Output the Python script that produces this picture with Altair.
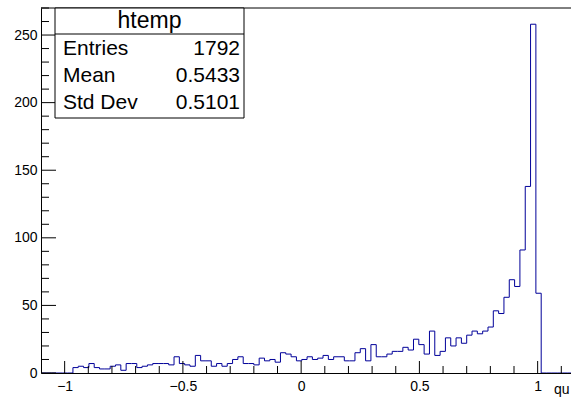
import altair as alt
import pandas as pd

# ---- histogram definition (ROOT-like htemp) ----
n_bins = 100
x_low, x_up = -1.1, 1.15
first_filled_bin = 6
bin_counts = [4, 5, 4, 7, 4, 3, 3, 5, 6, 2,
              7, 7, 4, 5, 6, 7, 7, 7, 6, 12,
              7, 6, 5, 13, 9, 9, 5, 7, 5, 7,
              10, 12, 7, 7, 6, 11, 9, 10, 8, 15,
              14, 12, 9, 10, 12, 10, 11, 13, 10, 12,
              12, 9, 9, 15, 18, 9, 21, 12, 12, 14,
              16, 16, 19, 17, 25, 21, 14, 31, 13, 16,
              26, 20, 26, 22, 28, 31, 29, 31, 34, 46,
              44, 56, 69, 64, 91, 138, 258, 59]

# ---- stats box ----
stats_title = "htemp"
stats_names = ["Entries", "Mean", "Std Dev"]
stats_values = ["1792", "0.5433", "0.5101"]

# ---- axis ticks ----
x_major = [-1, -0.5, 0, 0.5, 1]
x_minor = [round(-1.1 + 0.1 * k, 2) for k in range(23)]
x_minor = [v for v in x_minor if all(abs(v - m) > 1e-9 for m in x_major)]
y_major = [0, 50, 100, 150, 200, 250]
y_minor = [v for v in range(10, 271, 10) if v % 50 != 0]
x_title = "qu"

W, H = 530, 365
x_dom = [-1.1, 1.141]
y_dom = [0, 270]
FONT = "Liberation Sans"

# build step data
full = [0] * n_bins
full[first_filled_bin:first_filled_bin + len(bin_counts)] = bin_counts
width_bin = (x_up - x_low) / n_bins
edges = [x_low + i * width_bin for i in range(n_bins + 1)]
hist_df = pd.DataFrame({"x": edges, "y": full + [0]})

xs = alt.Scale(domain=x_dom, nice=False, zero=False)
ys = alt.Scale(domain=y_dom, nice=False, zero=False)

hist = alt.Chart(hist_df).mark_line(
    interpolate="step-after", color="#000099", strokeWidth=1, clip=True
).encode(
    x=alt.X("x:Q", scale=xs,
            axis=alt.Axis(values=x_major, format="~g", ticks=False, grid=False,
                          domainColor="black", labelFontSize=14, labelFont=FONT,
                          labelColor="black", labelPadding=6, title=None,
                          zindex=1, labelFlush=False)),
    y=alt.Y("y:Q", scale=ys,
            axis=alt.Axis(values=y_major, ticks=False, grid=False,
                          domainColor="black", labelFontSize=14, labelFont=FONT,
                          labelColor="black", labelPadding=4, title=None,
                          zindex=1, labelFlush=False)),
)

# inward ticks
xmaj = alt.Chart(pd.DataFrame({"v": x_major})).mark_rule(color="black", strokeWidth=1).encode(
    x=alt.X("v:Q", scale=xs), y=alt.value(H), y2=alt.value(H - 12))
xmin = alt.Chart(pd.DataFrame({"v": x_minor})).mark_rule(color="black", strokeWidth=1, clip=True).encode(
    x=alt.X("v:Q", scale=xs), y=alt.value(H), y2=alt.value(H - 7))
ymaj = alt.Chart(pd.DataFrame({"v": y_major})).mark_rule(color="black", strokeWidth=1).encode(
    y=alt.Y("v:Q", scale=ys), x=alt.value(0), x2=alt.value(15))
ymin = alt.Chart(pd.DataFrame({"v": y_minor})).mark_rule(color="black", strokeWidth=1).encode(
    y=alt.Y("v:Q", scale=ys), x=alt.value(0), x2=alt.value(8))

top_line = alt.Chart(pd.DataFrame({"a": [0]})).mark_rule(color="black", strokeWidth=1).encode(
    y=alt.value(0), x=alt.value(0), x2=alt.value(W))

# stats box
box = alt.Chart(pd.DataFrame({"a": [0]})).mark_rect(
    fill="white", stroke="black", strokeWidth=1
).encode(x=alt.value(14), x2=alt.value(203), y=alt.value(0), y2=alt.value(110))
divider = alt.Chart(pd.DataFrame({"a": [0]})).mark_rule(color="black", strokeWidth=1).encode(
    y=alt.value(26), x=alt.value(14), x2=alt.value(203))
title_txt = alt.Chart(pd.DataFrame({"t": [stats_title]})).mark_text(
    font=FONT, fontSize=23, align="center", baseline="middle", color="black"
).encode(text="t:N", x=alt.value(108.5), y=alt.value(13))

rows = []
row_y = [41, 68, 95]
for name, val, yy in zip(stats_names, stats_values, row_y):
    rows.append(alt.Chart(pd.DataFrame({"t": [name]})).mark_text(
        font=FONT, fontSize=21, align="left", baseline="middle", color="black"
    ).encode(text="t:N", x=alt.value(22), y=alt.value(yy)))
    rows.append(alt.Chart(pd.DataFrame({"t": [val]})).mark_text(
        font=FONT, fontSize=21, align="right", baseline="middle", color="black"
    ).encode(text="t:N", x=alt.value(199), y=alt.value(yy)))

xtitle = alt.Chart(pd.DataFrame({"t": [x_title]})).mark_text(
    font=FONT, fontSize=14, align="left", baseline="alphabetic", color="black"
).encode(text="t:N", x=alt.value(513), y=alt.value(386))

chart = alt.layer(
    hist, xmaj, xmin, ymaj, ymin, top_line, box, divider, title_txt, *rows, xtitle
).properties(
    width=W, height=H,
    autosize=alt.AutoSizeParams(type="none"),
    padding={"left": 41, "top": 8, "right": 0, "bottom": 31},
    background="white",
).configure_view(stroke=None)

chart.save("out.html", embed_options={"renderer": "svg", "actions": False})
